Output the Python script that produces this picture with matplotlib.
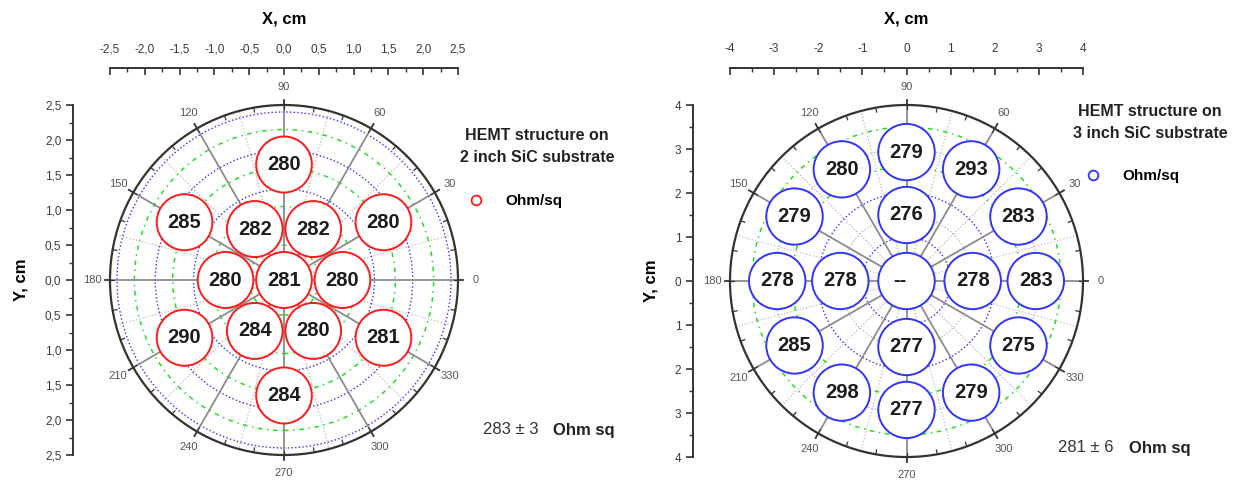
import numpy as np
import matplotlib.pyplot as plt
from matplotlib.patches import Circle
from matplotlib.lines import Line2D
from matplotlib.ticker import MultipleLocator, FuncFormatter

plt.rcParams['font.family'] = ['Liberation Sans', 'DejaVu Sans']

# 2 inch wafer: measurement spots (polar angle in deg, radius in cm) and sheet resistance
angles_2in = [0, 0, 60, 120, 180, 240, 300, 30, 90, 150, 210, 270, 330]
radii_2in = [0, 0.84, 0.84, 0.84, 0.84, 0.84, 0.84, 1.65, 1.65, 1.65, 1.65, 1.65, 1.65]
values_2in = ['281', '280', '282', '282', '280', '284', '280',
              '280', '280', '285', '290', '284', '281']

# 3 inch wafer
angles_3in = [0, 0, 90, 180, 270, 0, 30, 60, 90, 120, 150, 180, 210, 240, 270, 300, 330]
radii_3in = [0, 1.5, 1.5, 1.5, 1.5, 2.93, 2.93, 2.93, 2.93, 2.93, 2.93,
             2.93, 2.93, 2.93, 2.93, 2.93, 2.93]
values_3in = ['--', '278', '276', '278', '277', '283', '283', '293', '279',
              '280', '279', '278', '285', '298', '277', '279', '275']

polar_labels = [0, 30, 60, 90, 120, 150, 180, 210, 240, 270, 300, 330]

TXT = '#3a3a3a'


def comma(v, digits):
    return f'{v:.{digits}f}'.replace('.', ',')


def setup_axes(ax, R, major, minor, digits):
    ax.set_xlim(-R, R)
    ax.set_ylim(-R, R)
    ax.patch.set_visible(False)
    ax.spines['right'].set_visible(False)
    ax.spines['bottom'].set_visible(False)
    for s in ['top', 'left']:
        ax.spines[s].set_position(('outward', 27))
        ax.spines[s].set_linewidth(1.4)
        ax.spines[s].set_color('#333333')
    ax.xaxis.tick_top()
    ax.xaxis.set_label_position('top')
    ax.yaxis.tick_left()
    for axis in [ax.xaxis, ax.yaxis]:
        axis.set_major_locator(MultipleLocator(major))
        axis.set_minor_locator(MultipleLocator(minor))
    ax.xaxis.set_major_formatter(FuncFormatter(lambda v, p: comma(v, digits)))
    ax.yaxis.set_major_formatter(FuncFormatter(lambda v, p: comma(abs(v), digits)))
    ax.tick_params(axis='x', which='major', direction='in', length=5, width=1.2,
                   pad=9, labelsize=8.5, labelcolor=TXT, color='#333333')
    ax.tick_params(axis='x', which='minor', direction='in', length=3, width=1.0,
                   color='#333333')
    ax.tick_params(axis='y', which='major', direction='out', length=5, width=1.2,
                   pad=3, labelsize=8.5, labelcolor=TXT, color='#333333')
    ax.tick_params(axis='y', which='minor', direction='out', length=3, width=1.0,
                   color='#333333')
    ax.set_xlabel('X, cm', fontsize=12, fontweight='bold', labelpad=14)
    ax.set_ylabel('Y, cm', fontsize=12, fontweight='bold', labelpad=12)


def draw_grid(ax, R, blue_r, green_r, gray_r):
    for r in gray_r:
        ax.add_patch(Circle((0, 0), r, fill=False, ec='#b0b0b0', lw=0.9, ls=':', zorder=1))
    for r in blue_r:
        ax.add_patch(Circle((0, 0), r, fill=False, ec='#3030ff', lw=1.0, ls=':', zorder=1.1))
    for r in green_r:
        ax.add_patch(Circle((0, 0), r, fill=False, ec='#22dd22', lw=1.1, ls=(0, (3, 3, 1, 3)),
                            zorder=1.1))
    for a in range(15, 360, 30):
        t = np.radians(a)
        ax.plot([0, R * np.cos(t)], [0, R * np.sin(t)], color='#b8b8b8', lw=0.9, ls=':',
                zorder=1)
    for a in polar_labels:
        t = np.radians(a)
        ax.plot([0, R * np.cos(t)], [0, R * np.sin(t)], color='#8c8c8c', lw=1.3, zorder=1.5,
                clip_on=False)
        ax.plot([R * np.cos(t), 1.03 * R * np.cos(t)], [R * np.sin(t), 1.03 * R * np.sin(t)],
                color='#333333', lw=1.3, zorder=2, clip_on=False)
        ax.text(1.1 * R * np.cos(t), 1.1 * R * np.sin(t), str(a), ha='center', va='center',
                fontsize=8, color='#555555')
    for a in range(0, 360, 10):
        t = np.radians(a)
        ax.plot([0.975 * R * np.cos(t), R * np.cos(t)], [0.975 * R * np.sin(t), R * np.sin(t)],
                color='#333333', lw=0.9, zorder=2, clip_on=False)
    ax.add_patch(Circle((0, 0), R, fill=False, ec='#333333', lw=1.6, zorder=2, clip_on=False))


def draw_spots(ax, angles, radii, values, spot, color):
    t = np.radians(angles)
    xs = np.array(radii) * np.cos(t)
    ys = np.array(radii) * np.sin(t)
    for x, y, v in zip(xs, ys, values):
        ax.add_patch(Circle((x, y), spot, fc='white', ec=color, lw=1.4, zorder=3))
        dx = -0.25 * spot if v == '--' else 0
        ax.text(x + dx, y, v, ha='center', va='center', fontsize=14.5, fontweight='bold',
                color='#1c1c1c', zorder=4)


fig = plt.figure(figsize=(12.52, 4.8), dpi=100)

ax1 = fig.add_axes([110 / 1252, 25 / 480, 348 / 1252, 350 / 480])
setup_axes(ax1, 2.5, 0.5, 0.25, 1)
draw_grid(ax1, 2.5,
          blue_r=[0.75, 1.3, 1.85, 2.4],
          green_r=[0.5, 1.05, 1.6, 2.15],
          gray_r=[])
draw_spots(ax1, angles_2in, radii_2in, values_2in, 0.4, '#ff1a1a')

ax2 = fig.add_axes([730 / 1252, 23 / 480, 353 / 1252, 352 / 480])
setup_axes(ax2, 4, 1, 0.5, 0)
draw_grid(ax2, 4,
          blue_r=[1.0, 2.0],
          green_r=[2.6, 3.5],
          gray_r=[0.5, 1.5, 3.0])
draw_spots(ax2, angles_3in, radii_3in, values_3in, 0.64, '#3333ff')

# legends and annotations
fig.text(537 / 1252, 1 - 136 / 480, 'HEMT structure on', ha='center', va='center',
         fontsize=11.5, fontweight='bold', color='#222222')
fig.text(537 / 1252, 1 - 158 / 480, '2 inch SiC substrate', ha='center', va='center',
         fontsize=11.5, fontweight='bold', color='#222222')
fig.legend(handles=[Line2D([], [], marker='o', ls='none', mfc='none', mec='#ff1a1a', mew=1.3,
                           ms=7, label='Ohm/sq')],
           loc='center left', bbox_to_anchor=(447 / 1252, 1 - 201 / 480), frameon=False,
           prop={'size': 11, 'weight': 'bold'}, handletextpad=0.9)
fig.text(483 / 1252, 1 - 430 / 480, '283 ± 3', ha='left', va='center', fontsize=12,
         color='#333333')
fig.text(553 / 1252, 1 - 430 / 480, 'Ohm sq', ha='left', va='center', fontsize=12,
         fontweight='bold', color='#222222')

fig.text(1150 / 1252, 1 - 112 / 480, 'HEMT structure on', ha='center', va='center',
         fontsize=11.5, fontweight='bold', color='#222222')
fig.text(1150 / 1252, 1 - 133 / 480, '3 inch SiC substrate', ha='center', va='center',
         fontsize=11.5, fontweight='bold', color='#222222')
fig.legend(handles=[Line2D([], [], marker='o', ls='none', mfc='none', mec='#3333ff', mew=1.3,
                           ms=7, label='Ohm/sq')],
           loc='center left', bbox_to_anchor=(1064 / 1252, 1 - 176 / 480), frameon=False,
           prop={'size': 11, 'weight': 'bold'}, handletextpad=0.9)
fig.text(1058 / 1252, 1 - 448 / 480, '281 ± 6', ha='left', va='center', fontsize=12,
         color='#333333')
fig.text(1129 / 1252, 1 - 448 / 480, 'Ohm sq', ha='left', va='center', fontsize=12,
         fontweight='bold', color='#222222')

fig.savefig('out.png', dpi=100)
